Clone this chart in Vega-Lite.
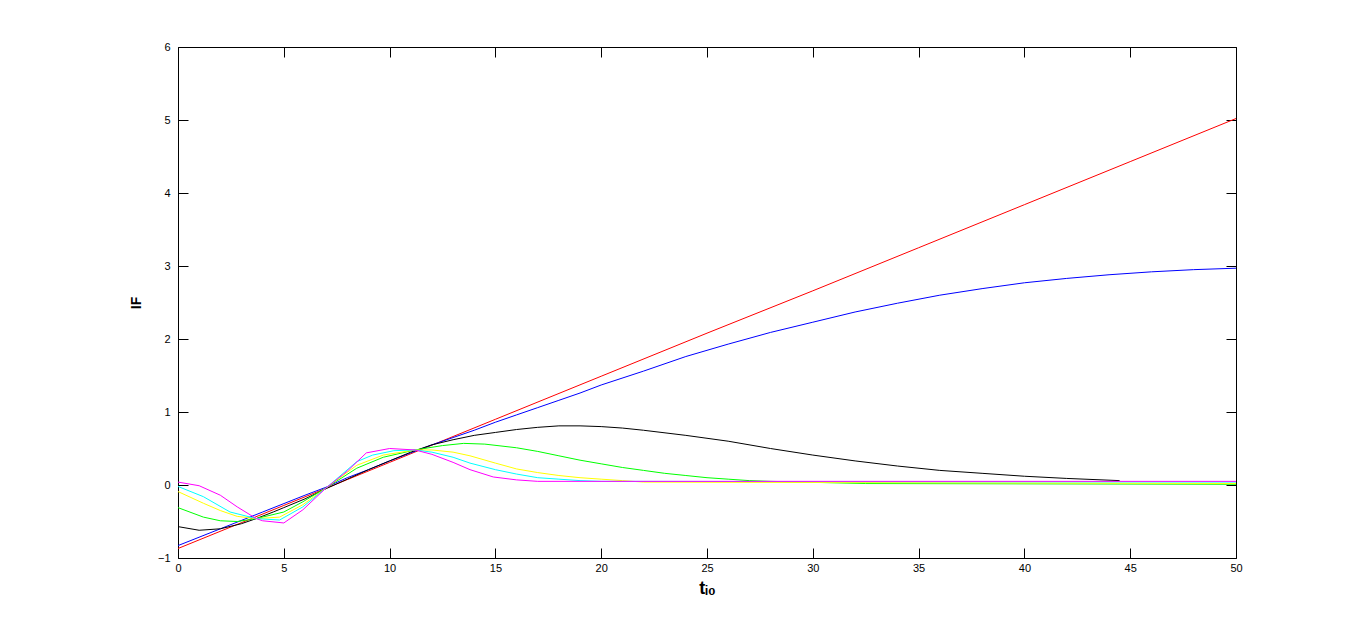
{
  "$schema": "https://vega.github.io/schema/vega-lite/v6.json",
  "width": 1058,
  "height": 511,
  "autosize": {"type": "none"},
  "padding": {"left": 178, "top": 47, "right": 130, "bottom": 70},
  "background": "white",
  "config": {
    "view": {"stroke": "black", "strokeWidth": 1},
    "axis": {
      "grid": false,
      "domain": false,
      "labelFlush": false,
      "tickColor": "black",
      "tickSize": -10,
      "tickWidth": 1,
      "labelFont": "Liberation Sans",
      "labelFontSize": 11,
      "labelColor": "black",
      "titleFont": "Liberation Sans",
      "titleFontSize": 14,
      "titleFontWeight": "bold",
      "titleColor": "black"
    }
  },
  "datasets": {
    "curves": [
      {"s": "1red", "t": 0, "v": -0.87}, {"s": "1red", "t": 5, "v": -0.28}, {"s": "1red", "t": 10, "v": 0.31}, {"s": "1red", "t": 15, "v": 0.9}, {"s": "1red", "t": 20, "v": 1.49}, {"s": "1red", "t": 25, "v": 2.08}, {"s": "1red", "t": 30, "v": 2.66}, {"s": "1red", "t": 35, "v": 3.25}, {"s": "1red", "t": 40, "v": 3.84}, {"s": "1red", "t": 45, "v": 4.43}, {"s": "1red", "t": 50, "v": 5.02},

      {"s": "2blue", "t": 0, "v": -0.83}, {"s": "2blue", "t": 2, "v": -0.6}, {"s": "2blue", "t": 4, "v": -0.37}, {"s": "2blue", "t": 6, "v": -0.14}, {"s": "2blue", "t": 7, "v": -0.03}, {"s": "2blue", "t": 8, "v": 0.1}, {"s": "2blue", "t": 9, "v": 0.21}, {"s": "2blue", "t": 10, "v": 0.33}, {"s": "2blue", "t": 11, "v": 0.44}, {"s": "2blue", "t": 12, "v": 0.55}, {"s": "2blue", "t": 13, "v": 0.65}, {"s": "2blue", "t": 14, "v": 0.75}, {"s": "2blue", "t": 15, "v": 0.86}, {"s": "2blue", "t": 16, "v": 0.96}, {"s": "2blue", "t": 17, "v": 1.06}, {"s": "2blue", "t": 18, "v": 1.16}, {"s": "2blue", "t": 19, "v": 1.26}, {"s": "2blue", "t": 20, "v": 1.37}, {"s": "2blue", "t": 22, "v": 1.56}, {"s": "2blue", "t": 24, "v": 1.76}, {"s": "2blue", "t": 26, "v": 1.93}, {"s": "2blue", "t": 28, "v": 2.09}, {"s": "2blue", "t": 30, "v": 2.23}, {"s": "2blue", "t": 32, "v": 2.37}, {"s": "2blue", "t": 34, "v": 2.49}, {"s": "2blue", "t": 36, "v": 2.6}, {"s": "2blue", "t": 38, "v": 2.69}, {"s": "2blue", "t": 40, "v": 2.77}, {"s": "2blue", "t": 42, "v": 2.83}, {"s": "2blue", "t": 44, "v": 2.88}, {"s": "2blue", "t": 46, "v": 2.92}, {"s": "2blue", "t": 48, "v": 2.95}, {"s": "2blue", "t": 50, "v": 2.97},

      {"s": "3black", "t": 0, "v": -0.57}, {"s": "3black", "t": 1, "v": -0.62}, {"s": "3black", "t": 2, "v": -0.6}, {"s": "3black", "t": 3, "v": -0.53}, {"s": "3black", "t": 3.7, "v": -0.46}, {"s": "3black", "t": 4.5, "v": -0.37}, {"s": "3black", "t": 5, "v": -0.31}, {"s": "3black", "t": 6, "v": -0.19}, {"s": "3black", "t": 7, "v": -0.05}, {"s": "3black", "t": 8, "v": 0.08}, {"s": "3black", "t": 9, "v": 0.21}, {"s": "3black", "t": 10, "v": 0.33}, {"s": "3black", "t": 11, "v": 0.45}, {"s": "3black", "t": 12, "v": 0.55}, {"s": "3black", "t": 13, "v": 0.62}, {"s": "3black", "t": 14, "v": 0.68}, {"s": "3black", "t": 15, "v": 0.72}, {"s": "3black", "t": 16, "v": 0.76}, {"s": "3black", "t": 17, "v": 0.79}, {"s": "3black", "t": 18, "v": 0.81}, {"s": "3black", "t": 19, "v": 0.81}, {"s": "3black", "t": 20, "v": 0.8}, {"s": "3black", "t": 21, "v": 0.78}, {"s": "3black", "t": 22, "v": 0.75}, {"s": "3black", "t": 24, "v": 0.68}, {"s": "3black", "t": 26, "v": 0.6}, {"s": "3black", "t": 28, "v": 0.5}, {"s": "3black", "t": 30, "v": 0.41}, {"s": "3black", "t": 32, "v": 0.33}, {"s": "3black", "t": 34, "v": 0.26}, {"s": "3black", "t": 36, "v": 0.2}, {"s": "3black", "t": 38, "v": 0.16}, {"s": "3black", "t": 40, "v": 0.12}, {"s": "3black", "t": 42, "v": 0.09}, {"s": "3black", "t": 44.5, "v": 0.06},

      {"s": "4green", "t": 0, "v": -0.31}, {"s": "4green", "t": 1.2, "v": -0.44}, {"s": "4green", "t": 2, "v": -0.49}, {"s": "4green", "t": 2.8, "v": -0.5}, {"s": "4green", "t": 3.7, "v": -0.46}, {"s": "4green", "t": 5, "v": -0.37}, {"s": "4green", "t": 5.9, "v": -0.23}, {"s": "4green", "t": 7, "v": -0.04}, {"s": "4green", "t": 8.45, "v": 0.23}, {"s": "4green", "t": 9.7, "v": 0.38}, {"s": "4green", "t": 11.2, "v": 0.48}, {"s": "4green", "t": 12.5, "v": 0.54}, {"s": "4green", "t": 13.5, "v": 0.57}, {"s": "4green", "t": 14.5, "v": 0.56}, {"s": "4green", "t": 16, "v": 0.51}, {"s": "4green", "t": 17, "v": 0.46}, {"s": "4green", "t": 18, "v": 0.4}, {"s": "4green", "t": 19, "v": 0.34}, {"s": "4green", "t": 20, "v": 0.29}, {"s": "4green", "t": 21, "v": 0.24}, {"s": "4green", "t": 22, "v": 0.2}, {"s": "4green", "t": 23, "v": 0.16}, {"s": "4green", "t": 24, "v": 0.13}, {"s": "4green", "t": 25, "v": 0.1}, {"s": "4green", "t": 26, "v": 0.08}, {"s": "4green", "t": 27, "v": 0.06}, {"s": "4green", "t": 28, "v": 0.05}, {"s": "4green", "t": 32.5, "v": 0.02}, {"s": "4green", "t": 50, "v": 0.01},

      {"s": "5yellow", "t": 0, "v": -0.09}, {"s": "5yellow", "t": 1.2, "v": -0.25}, {"s": "5yellow", "t": 2, "v": -0.35}, {"s": "5yellow", "t": 2.8, "v": -0.43}, {"s": "5yellow", "t": 3.7, "v": -0.46}, {"s": "5yellow", "t": 4.8, "v": -0.44}, {"s": "5yellow", "t": 5.9, "v": -0.27}, {"s": "5yellow", "t": 7, "v": -0.04}, {"s": "5yellow", "t": 8.45, "v": 0.27}, {"s": "5yellow", "t": 9.7, "v": 0.41}, {"s": "5yellow", "t": 11.2, "v": 0.48}, {"s": "5yellow", "t": 12, "v": 0.48}, {"s": "5yellow", "t": 13, "v": 0.45}, {"s": "5yellow", "t": 13.8, "v": 0.4}, {"s": "5yellow", "t": 15, "v": 0.3}, {"s": "5yellow", "t": 16, "v": 0.22}, {"s": "5yellow", "t": 17, "v": 0.17}, {"s": "5yellow", "t": 18, "v": 0.13}, {"s": "5yellow", "t": 19, "v": 0.1}, {"s": "5yellow", "t": 20, "v": 0.08}, {"s": "5yellow", "t": 21, "v": 0.06}, {"s": "5yellow", "t": 22, "v": 0.04}, {"s": "5yellow", "t": 50, "v": 0.02},

      {"s": "6cyan", "t": 0, "v": -0.02}, {"s": "6cyan", "t": 1.2, "v": -0.16}, {"s": "6cyan", "t": 2.46, "v": -0.37}, {"s": "6cyan", "t": 3.7, "v": -0.46}, {"s": "6cyan", "t": 4.8, "v": -0.48}, {"s": "6cyan", "t": 5.9, "v": -0.3}, {"s": "6cyan", "t": 7, "v": -0.04}, {"s": "6cyan", "t": 8.45, "v": 0.32}, {"s": "6cyan", "t": 9.2, "v": 0.41}, {"s": "6cyan", "t": 10.2, "v": 0.47}, {"s": "6cyan", "t": 11.2, "v": 0.48}, {"s": "6cyan", "t": 12, "v": 0.45}, {"s": "6cyan", "t": 13, "v": 0.38}, {"s": "6cyan", "t": 13.8, "v": 0.3}, {"s": "6cyan", "t": 15, "v": 0.21}, {"s": "6cyan", "t": 16, "v": 0.15}, {"s": "6cyan", "t": 17, "v": 0.1}, {"s": "6cyan", "t": 18, "v": 0.08}, {"s": "6cyan", "t": 19, "v": 0.06}, {"s": "6cyan", "t": 20, "v": 0.05}, {"s": "6cyan", "t": 50, "v": 0.04},

      {"s": "7magenta", "t": 0, "v": 0.04}, {"s": "7magenta", "t": 1, "v": -0.01}, {"s": "7magenta", "t": 2, "v": -0.14}, {"s": "7magenta", "t": 2.8, "v": -0.3}, {"s": "7magenta", "t": 3.7, "v": -0.46}, {"s": "7magenta", "t": 4, "v": -0.49}, {"s": "7magenta", "t": 5, "v": -0.52}, {"s": "7magenta", "t": 5.9, "v": -0.34}, {"s": "7magenta", "t": 7, "v": -0.04}, {"s": "7magenta", "t": 8, "v": 0.19}, {"s": "7magenta", "t": 8.9, "v": 0.44}, {"s": "7magenta", "t": 10, "v": 0.5}, {"s": "7magenta", "t": 11.2, "v": 0.48}, {"s": "7magenta", "t": 12, "v": 0.42}, {"s": "7magenta", "t": 13, "v": 0.31}, {"s": "7magenta", "t": 13.8, "v": 0.21}, {"s": "7magenta", "t": 14.9, "v": 0.11}, {"s": "7magenta", "t": 16, "v": 0.07}, {"s": "7magenta", "t": 17, "v": 0.05}, {"s": "7magenta", "t": 50, "v": 0.05}
    ]
  },
  "data": {"name": "curves"},
  "layer": [
    {
      "mark": {"type": "line", "strokeWidth": 1, "interpolate": "linear"},
      "encoding": {
        "x": {
          "field": "t", "type": "quantitative",
          "scale": {"domain": [0, 50], "nice": false, "zero": false},
          "axis": {"orient": "bottom", "values": [0, 5, 10, 15, 20, 25, 30, 35, 40, 45, 50], "labelPadding": 14, "title": "tᵢ₀", "titleFontSize": 18, "titlePadding": 6}
        },
        "y": {
          "field": "v", "type": "quantitative",
          "scale": {"domain": [-1, 6], "nice": false, "zero": false},
          "axis": {"orient": "left", "values": [-1, 0, 1, 2, 3, 4, 5, 6], "labelPadding": 18, "title": "IF", "titlePadding": 14}
        },
        "color": {
          "field": "s", "type": "nominal",
          "scale": {
            "domain": ["1red", "2blue", "3black", "4green", "5yellow", "6cyan", "7magenta"],
            "range": ["#ff0000", "#0000ff", "#000000", "#00ff00", "#ffff00", "#00ffff", "#ff00ff"]
          },
          "legend": null
        }
      }
    },
    {
      "mark": {"type": "point", "opacity": 0},
      "encoding": {
        "x": {"field": "t", "type": "quantitative", "axis": {"orient": "top", "values": [0, 5, 10, 15, 20, 25, 30, 35, 40, 45, 50], "labels": false, "title": null}},
        "y": {"field": "v", "type": "quantitative", "axis": {"orient": "right", "values": [-1, 0, 1, 2, 3, 4, 5, 6], "labels": false, "title": null}}
      }
    }
  ]
}
